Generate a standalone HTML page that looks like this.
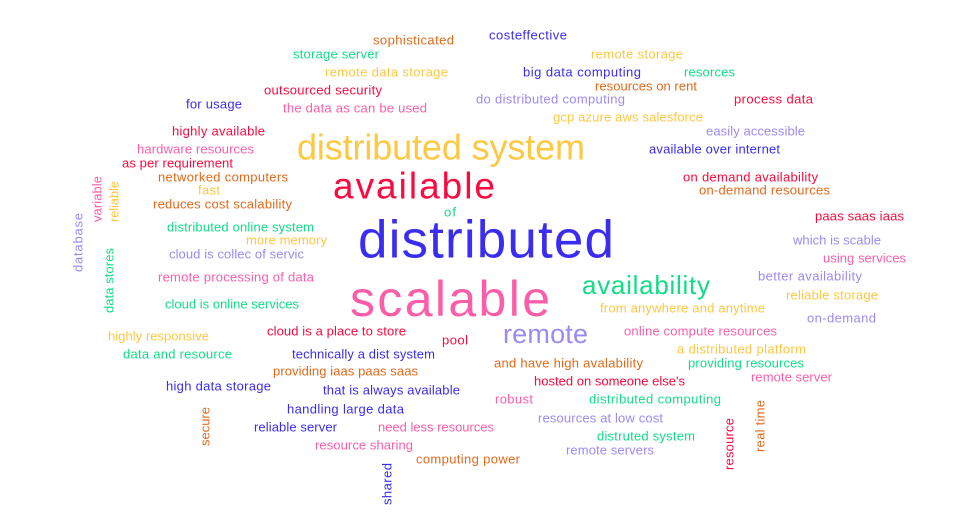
<!DOCTYPE html>
<html><head><meta charset="utf-8"><style>
html,body{margin:0;padding:0;background:#fff;width:979px;height:519px;overflow:hidden}
svg{display:block}
text{font-family:"Liberation Sans","DejaVu Sans",sans-serif;dominant-baseline:central}
.o{fill:#e2691a}.g{fill:#12dc86}.b{fill:#3a2cf0}.y{fill:#fdc842}.p{fill:#fb5ea8}.r{fill:#fa0a3e}.v{fill:#9a8bf3}
</style></head><body>
<svg width="979" height="519">
<g font-size="13" lengthAdjust="spacingAndGlyphs">
<text class="o" x="373" y="40" textLength="81">sophisticated</text>
<text class="b" x="489" y="35" textLength="78">costeffective</text>
<text class="g" x="293" y="54" textLength="86">storage server</text>
<text class="y" x="591" y="54" textLength="92">remote storage</text>
<text class="y" x="325" y="72" textLength="123">remote data storage</text>
<text class="b" x="523" y="72" textLength="118">big data computing</text>
<text class="g" x="684" y="72" textLength="51">resorces</text>
<text class="r" x="264" y="90" textLength="118">outsourced security</text>
<text class="o" x="595" y="86" textLength="102">resources on rent</text>
<text class="b" x="186" y="104" textLength="56">for usage</text>
<text class="p" x="283" y="108" textLength="144">the data as can be used</text>
<text class="v" x="476" y="99" textLength="149">do distributed computing</text>
<text class="r" x="734" y="99" textLength="79">process data</text>
<text class="y" x="553" y="117" textLength="150">gcp azure aws salesforce</text>
<text class="r" x="172" y="131" textLength="93">highly available</text>
<text class="v" x="706" y="131" textLength="99">easily accessible</text>
<text class="p" x="137" y="149" textLength="117">hardware resources</text>
<text class="b" x="649" y="149" textLength="131">available over internet</text>
<text class="r" x="122" y="163" textLength="111">as per requirement</text>
<text class="o" x="158" y="177" textLength="130">networked computers</text>
<text class="r" x="683" y="177" textLength="135">on demand availability</text>
<text class="y" x="198" y="190" textLength="22">fast</text>
<text class="o" x="699" y="190" textLength="131">on-demand resources</text>
<text class="o" x="153" y="204" textLength="139">reduces cost scalability</text>
<text class="g" x="444" y="212" textLength="12">of</text>
<text class="r" x="815" y="216" textLength="89">paas saas iaas</text>
<text class="g" x="167" y="227" textLength="147">distributed online system</text>
<text class="y" x="246" y="240" textLength="81">more memory</text>
<text class="v" x="793" y="240" textLength="88">which is scable</text>
<text class="v" x="169" y="254" textLength="135">cloud is collec of servic</text>
<text class="p" x="823" y="258" textLength="83">using services</text>
<text class="p" x="158" y="277" textLength="156">remote processing of data</text>
<text class="v" x="758" y="276" textLength="104">better availability</text>
<text class="y" x="786" y="295" textLength="92">reliable storage</text>
<text class="g" x="165" y="304" textLength="134">cloud is online services</text>
<text class="y" x="600" y="308" textLength="165">from anywhere and anytime</text>
<text class="v" x="807" y="318" textLength="69">on-demand</text>
<text class="y" x="108" y="336" textLength="101">highly responsive</text>
<text class="r" x="267" y="331" textLength="139">cloud is a place to store</text>
<text class="r" x="442" y="340" textLength="26">pool</text>
<text class="p" x="624" y="331" textLength="153">online compute resources</text>
<text class="y" x="677" y="349" textLength="129">a distributed platform</text>
<text class="g" x="123" y="354" textLength="109">data and resource</text>
<text class="b" x="292" y="354" textLength="143">technically a dist system</text>
<text class="o" x="494" y="363" textLength="149">and have high avalability</text>
<text class="g" x="688" y="363" textLength="116">providing resources</text>
<text class="o" x="273" y="371" textLength="145">providing iaas paas saas</text>
<text class="p" x="751" y="377" textLength="81">remote server</text>
<text class="b" x="166" y="386" textLength="105">high data storage</text>
<text class="b" x="323" y="390" textLength="137">that is always available</text>
<text class="r" x="534" y="381" textLength="151">hosted on someone else's</text>
<text class="p" x="495" y="399" textLength="38">robust</text>
<text class="g" x="589" y="399" textLength="132">distributed computing</text>
<text class="b" x="287" y="409" textLength="117">handling large data</text>
<text class="v" x="538" y="418" textLength="125">resources at low cost</text>
<text class="b" x="254" y="427" textLength="83">reliable server</text>
<text class="p" x="378" y="427" textLength="116">need less resources</text>
<text class="g" x="597" y="436" textLength="98">distruted system</text>
<text class="p" x="315" y="445" textLength="98">resource sharing</text>
<text class="v" x="566" y="450" textLength="88">remote servers</text>
<text class="o" x="416" y="459" textLength="104">computing power</text>
</g>
<g font-size="13" lengthAdjust="spacingAndGlyphs">
<text class="p" transform="translate(97,222) rotate(-90)" x="0" y="0" textLength="46">variable</text>
<text class="y" transform="translate(114,222) rotate(-90)" x="0" y="0" textLength="41">reliable</text>
<text class="v" transform="translate(78,272) rotate(-90)" x="0" y="0" textLength="59">database</text>
<text class="g" transform="translate(109,313) rotate(-90)" x="0" y="0" textLength="65">data stores</text>
<text class="o" transform="translate(205,446) rotate(-90)" x="0" y="0" textLength="39">secure</text>
<text class="b" transform="translate(387,505) rotate(-90)" x="0" y="0" textLength="42">shared</text>
<text class="r" transform="translate(729,470) rotate(-90)" x="0" y="0" textLength="52">resource</text>
<text class="o" transform="translate(760,452) rotate(-90)" x="0" y="0" textLength="52">real time</text>
</g>
<g lengthAdjust="spacingAndGlyphs">
<text class="y" font-size="36" x="297" y="147" textLength="288">distributed system</text>
<text class="r" font-size="37" x="333" y="186" textLength="162">available</text>
<text class="b" font-size="53" x="358" y="240" textLength="256">distributed</text>
<text class="p" font-size="50" x="350" y="299" textLength="200">scalable</text>
<text class="g" font-size="26" x="582" y="285" textLength="128">availability</text>
<text class="v" font-size="27" x="503" y="334" textLength="85">remote</text>
</g>
</svg>
</body></html>
